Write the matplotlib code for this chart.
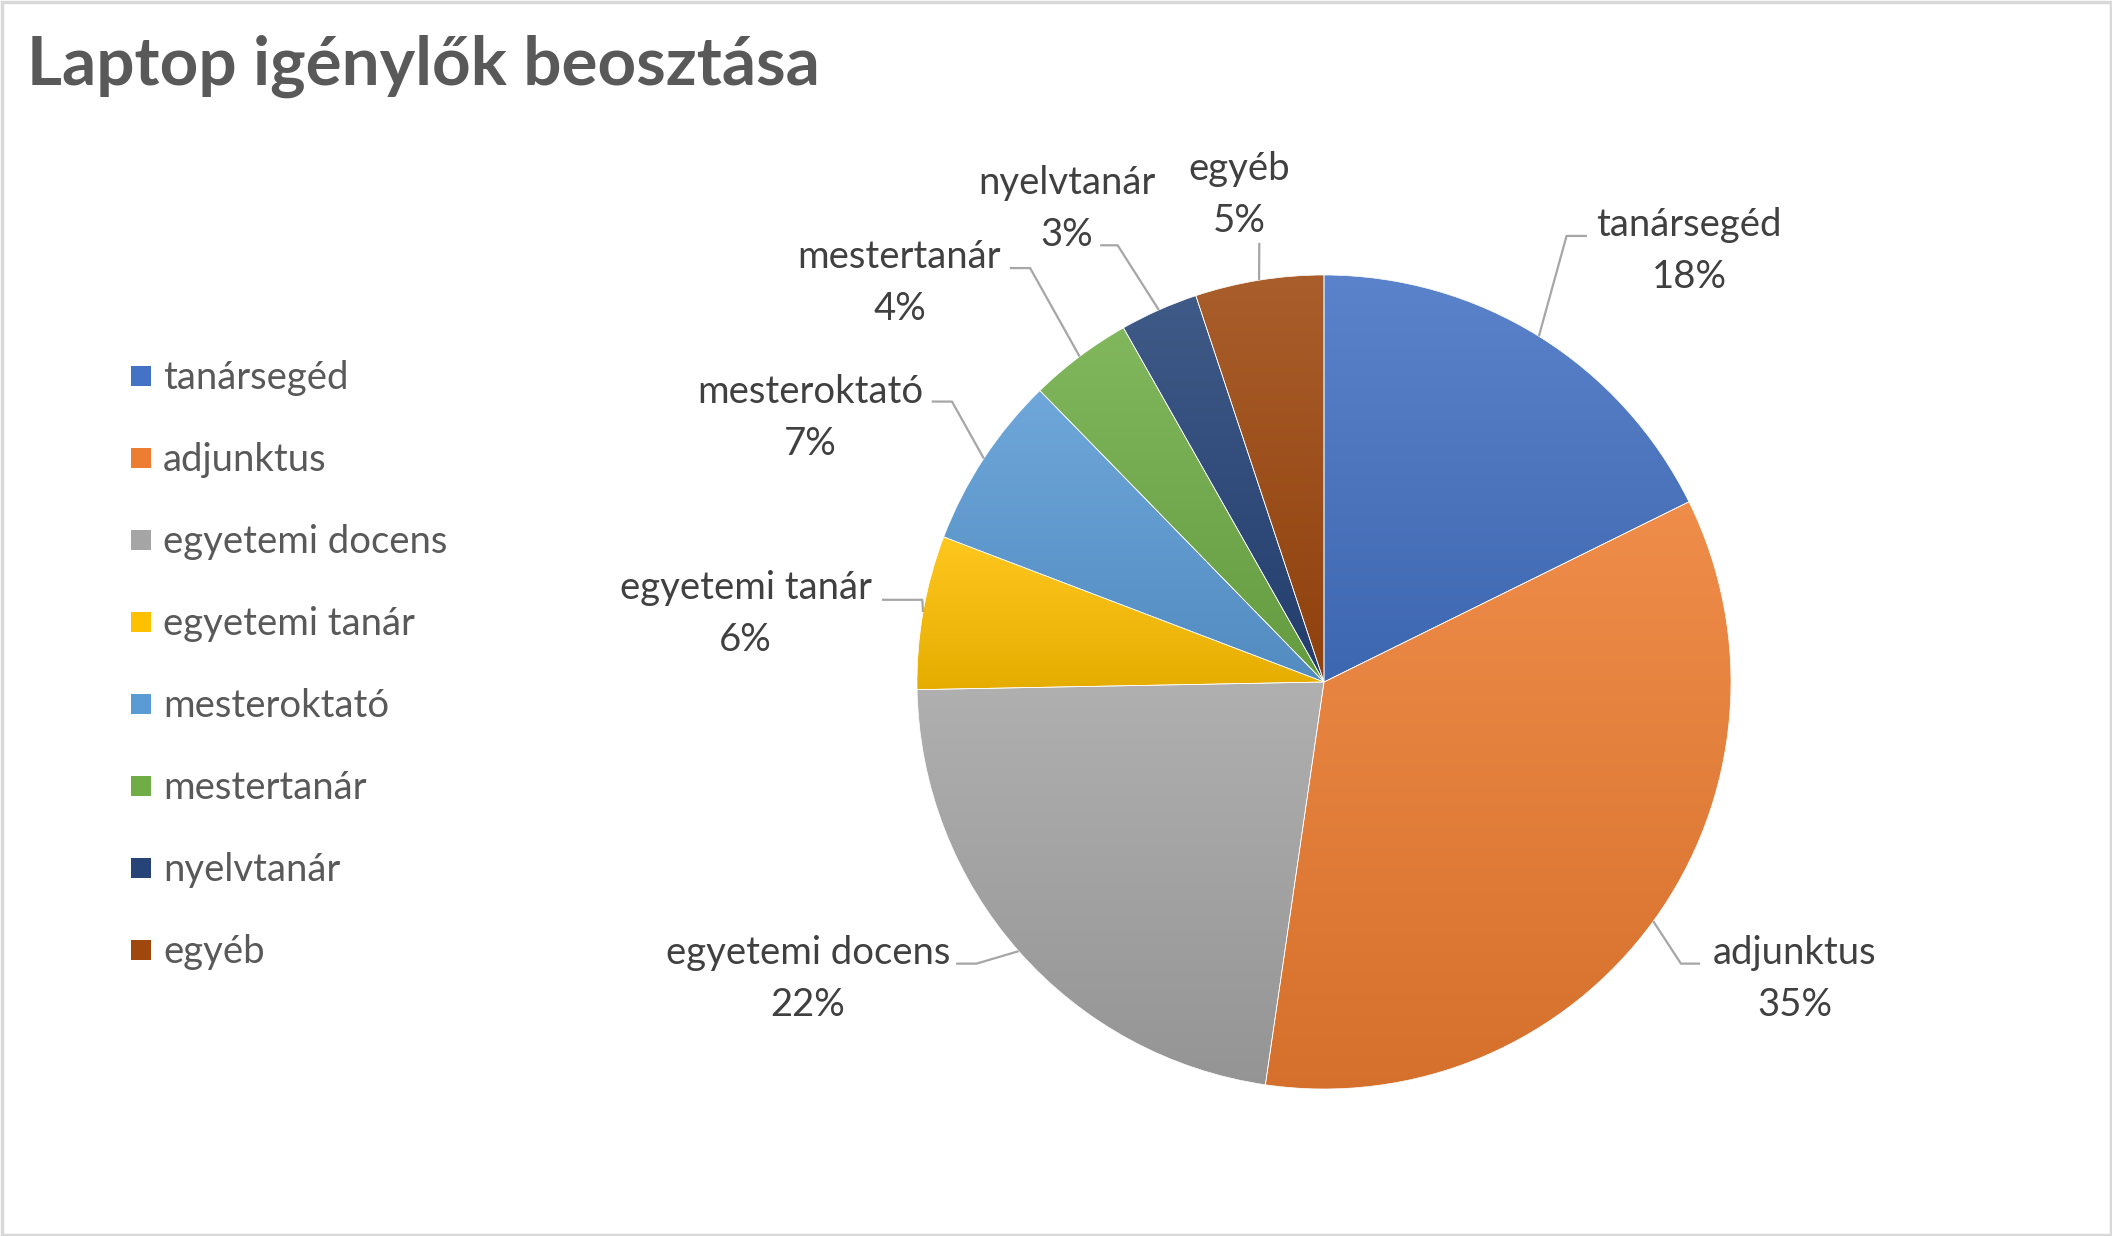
import numpy as np
import matplotlib
matplotlib.use("Agg")
import matplotlib.pyplot as plt
import matplotlib.colors as mcolors
from matplotlib.patches import Rectangle

# ---------------- data ----------------
categories = ['tanársegéd', 'adjunktus', 'egyetemi docens', 'egyetemi tanár',
              'mesteroktató', 'mestertanár', 'nyelvtanár', 'egyéb']
shares = [17.7, 34.6, 22.4, 6.1, 6.9, 4.1, 3.1, 5.1]
colors = ['#4472C4', '#ED7D31', '#A5A5A5', '#FFC000',
          '#5B9BD5', '#70AD47', '#264478', '#9E480E']
title = 'Laptop igénylők beosztása'

# label layout, in pie-radius units relative to centre:
# (text x, text y, elbow x, elbow y, end x)
label_layout = [
    (0.897, 1.066, 0.596, 1.096, 0.646),
    (1.156, -0.722, 0.877, -0.692, 0.924),
    (-1.268, -0.722, -0.854, -0.692, -0.904),
    (-1.421, 0.175, -0.987, 0.202, -1.086),
    (-1.262, 0.656, -0.914, 0.689, -0.964),
    (-1.043, 0.987, -0.722, 1.017, -0.772),
    (-0.632, 1.169, -0.507, 1.073, -0.550),
    (-0.209, 1.205, -0.159, 1.079, -0.159),
]

W, H = 2112, 1236
cx, cy, R = 1324, H - 682, 407
FONT = 'Lato'
TXT = '#404040'

plt.rcParams['font.family'] = [FONT, 'DejaVu Sans']

fig = plt.figure(figsize=(W / 100, H / 100), dpi=100)
ax = fig.add_axes([0, 0, 1, 1])


def mix(c, other, t):
    a = np.array(mcolors.to_rgb(c))
    b = np.array(mcolors.to_rgb(other))
    return a * (1 - t) + b * t


wedges, _ = ax.pie(shares, colors=colors, startangle=90, counterclock=False,
                   center=(cx, cy), radius=R, frame=True,
                   wedgeprops=dict(edgecolor='white', linewidth=0.5))

# vertical gradient per slice (light top, dark bottom)
for w, c in zip(wedges, colors):
    th = np.radians(np.linspace(w.theta1, w.theta2, 60))
    xs = np.concatenate([[cx], cx + R * np.cos(th)])
    ys = np.concatenate([[cy], cy + R * np.sin(th)])
    top = mix(c, 'white', 0.12)
    bot = mix(c, 'black', 0.1)
    t = np.linspace(0, 1, 256)[:, None]
    grad = bot[None, :] * (1 - t) + top[None, :] * t
    img = ax.imshow(grad[:, None, :], extent=(xs.min(), xs.max(), ys.min(), ys.max()),
                    origin='lower', aspect='auto', zorder=w.get_zorder() + 0.1,
                    interpolation='bilinear')
    img.set_clip_path(w)
    w.set_facecolor('none')
    w.set_zorder(w.get_zorder() + 0.2)

ax.set_xlim(0, W)
ax.set_ylim(0, H)
ax.set_aspect('auto')
ax.axis('off')

# data labels with leader lines
for w, name, v, (tx, ty, ex, ey, endx) in zip(wedges, categories, shares, label_layout):
    mid = np.radians((w.theta1 + w.theta2) / 2)
    sx, sy = cx + R * np.cos(mid), cy + R * np.sin(mid)
    px = [sx, cx + R * ex, cx + R * endx]
    py = [sy, cy + R * ey, cy + R * ey]
    ax.plot(px, py, color='#A6A6A6', lw=1.6, zorder=5, solid_capstyle='butt')
    ax.text(cx + R * tx, cy + R * ty - 3, f'{name}\n{round(v)}%', ha='center', va='center',
            fontsize=27.5, color=TXT, linespacing=1.55, zorder=6)

# legend
leg_y0, leg_dy = H - 378, 82
for i, (name, c) in enumerate(zip(categories, colors)):
    y = leg_y0 - i * leg_dy
    ax.add_patch(Rectangle((131, y - 8), 20, 20, facecolor=c, edgecolor='none'))
    ax.text(163, y, name, ha='left', va='center', fontsize=27.5, color='#595959')

# title
ax.text(27, H - 66, title, ha='left', va='center', fontsize=48.5, fontweight='bold',
        color='#595959')

# chart border
ax.add_patch(Rectangle((1.5, 1.5), W - 3, H - 3, facecolor='none', edgecolor='#D9D9D9',
                       lw=2.5, zorder=10))

fig.savefig('out.png', dpi=100, facecolor='white')
